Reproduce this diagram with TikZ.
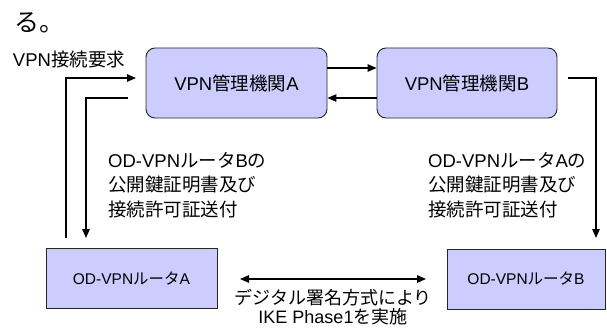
\documentclass[tikz,border=0pt]{standalone}
\usepackage{fontspec}
\setmainfont{Liberation Sans}
\newfontfamily\jp{Noto Sans CJK JP}
\usetikzlibrary{arrows.meta}
\definecolor{boxfill}{RGB}{204,204,255}
\tikzset{
  mgr/.style={draw=black!85, line width=0.9pt, fill=boxfill, rounded corners=9pt, minimum width=#1, minimum height=70pt, inner sep=0pt, font=\fontsize{18.5}{20}\selectfont},
  rtr/.style={draw=black!85, line width=0.9pt, fill=boxfill, minimum width=#1, minimum height=60pt, inner sep=0pt, font=\fontsize{15.5}{17}\selectfont},
  conn/.style={line width=1.2pt, draw=black},
  tip/.style={-{Triangle[length=9pt,width=7.5pt]}},
  lbl/.style={inner sep=0pt, font=\fontsize{18.5}{24.5}\selectfont, align=left}
}
\begin{document}
\begin{tikzpicture}[x=1pt,y=-1pt]
\useasboundingbox (0,0) rectangle (607,329);
% title fragment
\node[anchor=west, inner sep=0pt, font=\fontsize{25}{26}\selectfont] (frag) at (14,23) {\jp る。};
% boxes
\node[mgr=181pt] (mA) at (236.5,83) {VPN{\jp 管理機関}A};
\node[mgr=180pt] (mB) at (467,83) {VPN{\jp 管理機関}B};
\node[rtr=171pt] (rA) at (131.5,278.5) {OD-VPN{\jp ルータ}A};
\node[rtr=158pt] (rB) at (526,279) {OD-VPN{\jp ルータ}B};
% manager links
\draw[conn,tip] (mA.east |- 0,68) -- (mB.west |- 0,68);
\draw[conn,tip] (mB.west |- 0,98) -- (mA.east |- 0,98);
% request
\coordinate (reqS) at (66,238);
\coordinate (reqE) at (136,78);
\draw[conn,tip] (reqS) |- (reqE);
\node[inner sep=0pt, font=\fontsize{18.5}{20}\selectfont] (reqL) at (69,59) {VPN{\jp 接続要求}};
% A -> router A
\coordinate (aS) at (128,98);
\coordinate (aE) at (86,238);
\draw[conn,tip] (aS) -| (aE);
% B -> router B
\coordinate (bS) at (568,78);
\coordinate (bE) at (596,238);
\draw[conn,tip] (bS) -| (bE);
% labels
\node[lbl, anchor=north west] (lA) at (108,152) {OD-VPN{\jp ルータ}B{\jp の}\\{\jp 公開鍵証明書及び}\\{\jp 接続許可証送付}};
\node[lbl, anchor=north west] (lB) at (428,152) {OD-VPN{\jp ルータ}A{\jp の}\\{\jp 公開鍵証明書及び}\\{\jp 接続許可証送付}};
% IKE
\coordinate (ikL) at (240,279);
\coordinate (ikR) at (426,279);
\draw[conn,{Triangle[length=9pt,width=7.5pt]}-{Triangle[length=9pt,width=7.5pt]}] (ikL) -- (ikR);
\node[inner sep=0pt, anchor=north, align=center, font=\fontsize{18}{19}\selectfont] (ikT) at (333,289) {{\jp デジタル署名方式により}\\IKE Phase1{\jp を実施}};
\end{tikzpicture}
\end{document}
